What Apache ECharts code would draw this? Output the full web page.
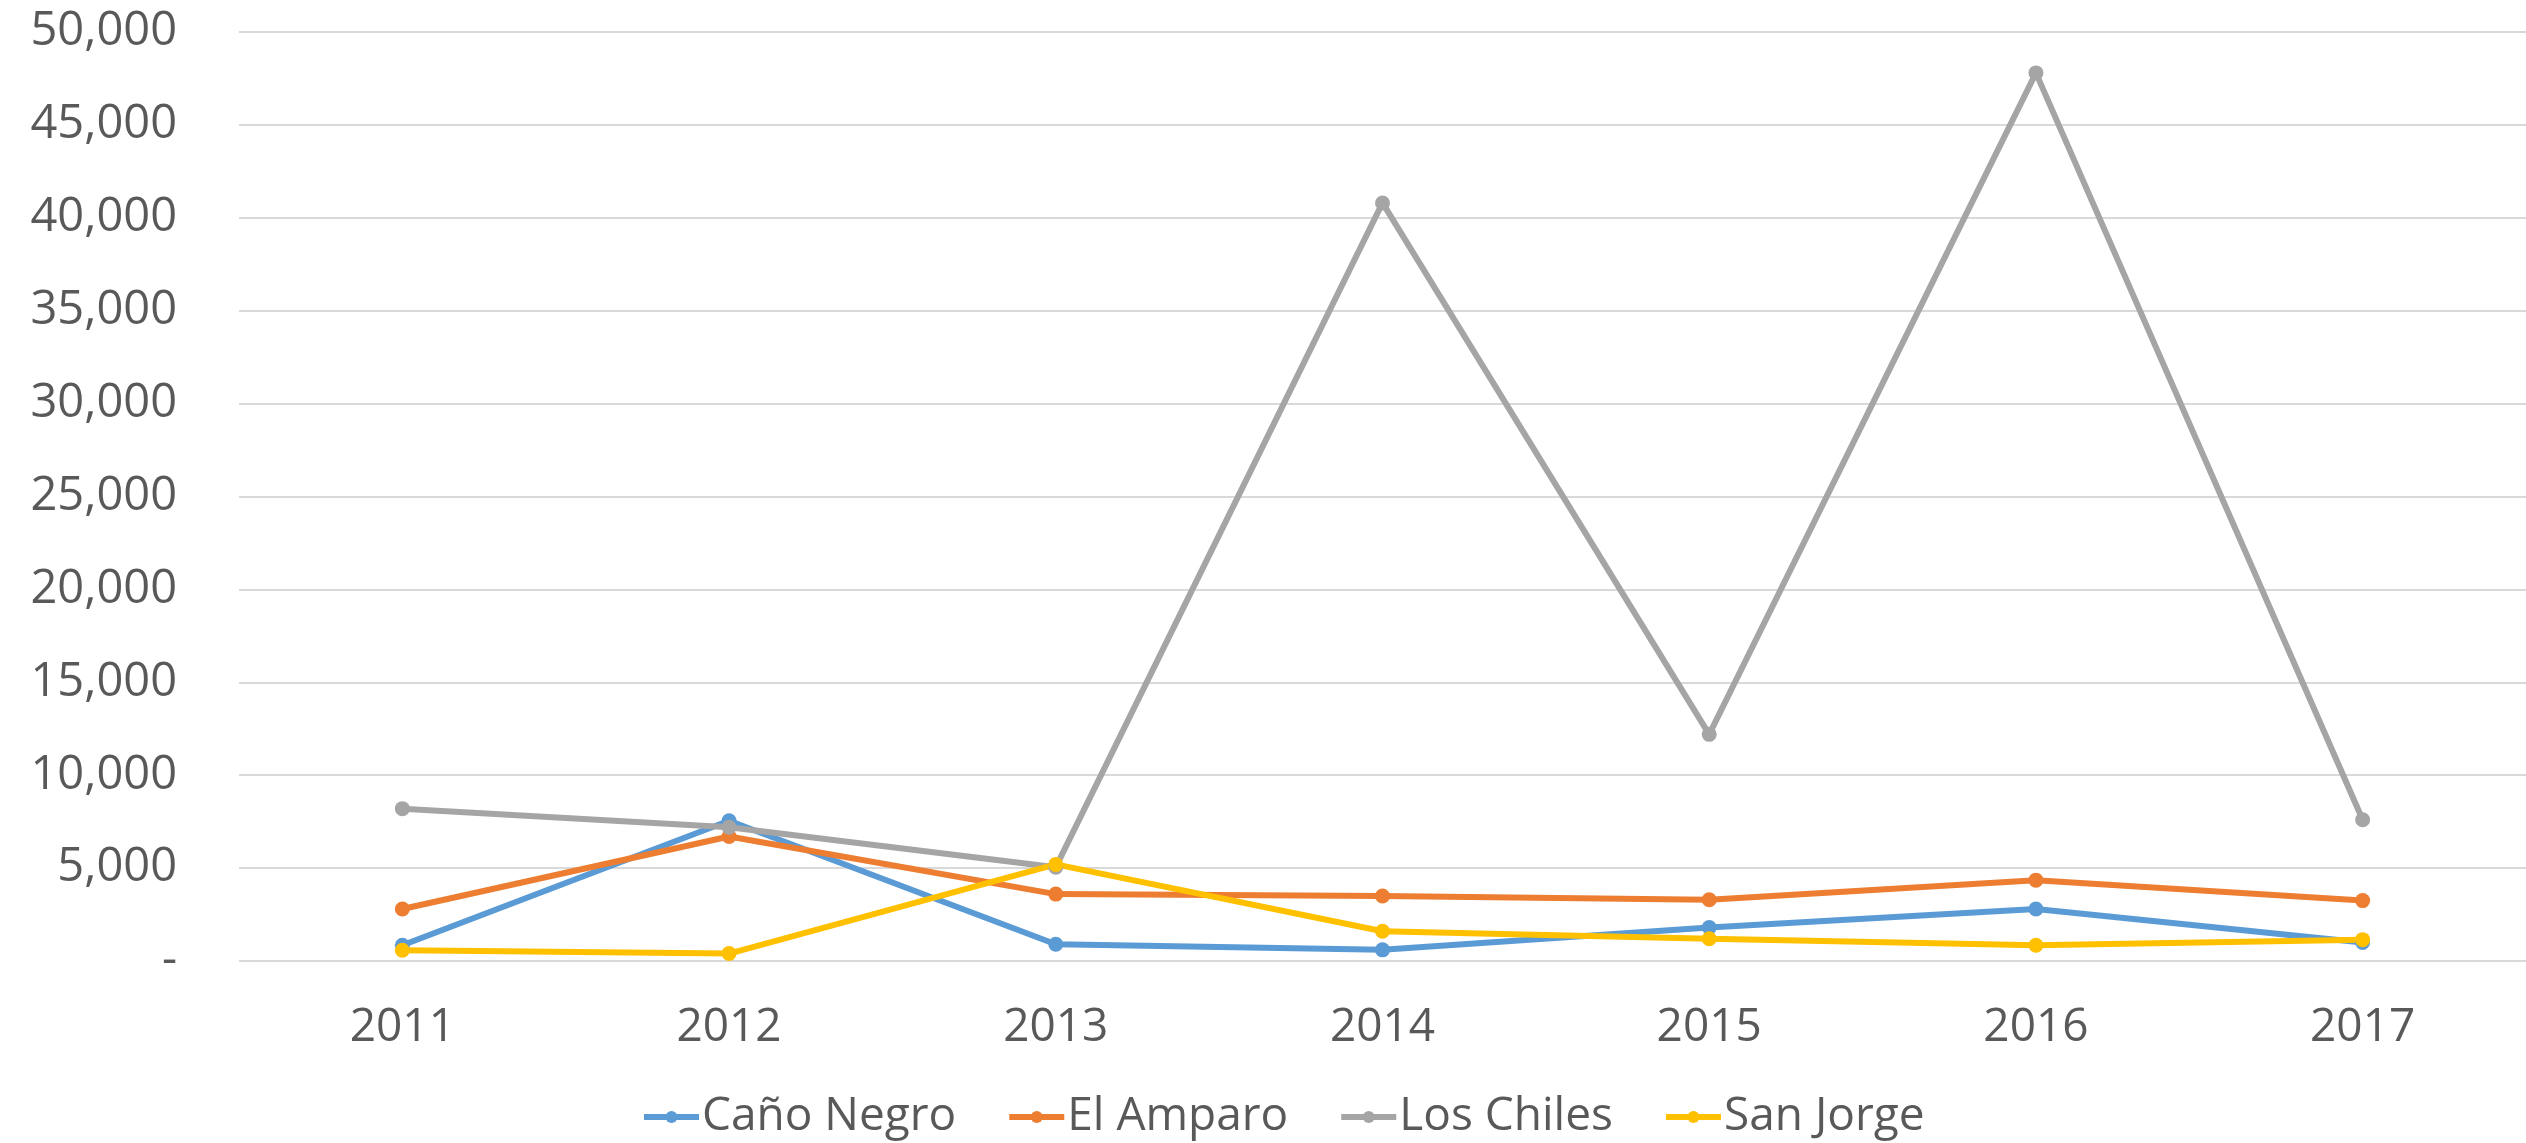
<!DOCTYPE html>
<html>
<head>
<meta charset="utf-8">
<title>Chart</title>
<script src="https://cdn.jsdelivr.net/npm/echarts@6/dist/echarts.min.js"></script>
<style>
  html, body { margin: 0; padding: 0; background: #fff; }
  #chart { width: 2526px; height: 1143px; }
</style>
</head>
<body>
<div id="chart"></div>
<script>
// years on the x axis
var years = ['2011', '2012', '2013', '2014', '2015', '2016', '2017'];

// values
var canoNegro = [850, 7550, 900, 600, 1800, 2800, 1000];
var elAmparo = [2800, 6700, 3600, 3500, 3300, 4350, 3250];
var losChiles = [8200, 7200, 5050, 40800, 12200, 47800, 7600];
var sanJorge = [575, 400, 5200, 1600, 1200, 850, 1150];

var seriesNames = ['Caño Negro', 'El Amparo', 'Los Chiles', 'San Jorge'];
var colors = ['#5B9BD5', '#ED7D31', '#A5A5A5', '#FFC000'];

var font = '"Open Sans", "Noto Sans", sans-serif';

function line(name, data, color) {
  return {
    name: name,
    type: 'line',
    data: data,
    symbol: 'circle',
    symbolSize: 15,
    lineStyle: { width: 6, color: color },
    itemStyle: { color: color }
  };
}

var myChart = echarts.init(document.getElementById('chart'));

var option = {
  animation: false,
  color: colors,
  grid: {
    left: 239,
    right: 0,
    top: 32,
    bottom: 182,
    containLabel: false
  },
  legend: {
    left: 636,
    bottom: -2,
    itemWidth: 55,
    itemHeight: 15,
    itemGap: 50,
    lineStyle: { width: 6 },
    textStyle: { fontFamily: font, fontSize: 46, color: '#595959', padding: [0, 0, 0, -2] },
    data: seriesNames
  },
  xAxis: {
    type: 'category',
    data: years,
    boundaryGap: true,
    axisLine: { show: false },
    axisTick: { show: false },
    axisLabel: {
      fontFamily: font,
      fontSize: 46,
      color: '#595959',
      margin: 44
    }
  },
  yAxis: {
    type: 'value',
    min: 0,
    max: 50000,
    interval: 5000,
    axisLine: { show: false },
    axisTick: { show: false },
    splitLine: { lineStyle: { color: '#D9D9D9', width: 2 } },
    axisLabel: {
      fontFamily: font,
      fontSize: 47,
      color: '#595959',
      margin: 62,
      formatter: function(v) {
        return v === 0 ? '-' : v.toLocaleString('en-US');
      }
    }
  },
  series: [
    line(seriesNames[0], canoNegro, colors[0]),
    line(seriesNames[1], elAmparo, colors[1]),
    line(seriesNames[2], losChiles, colors[2]),
    line(seriesNames[3], sanJorge, colors[3])
  ]
};

myChart.setOption(option);
</script>
</body>
</html>
